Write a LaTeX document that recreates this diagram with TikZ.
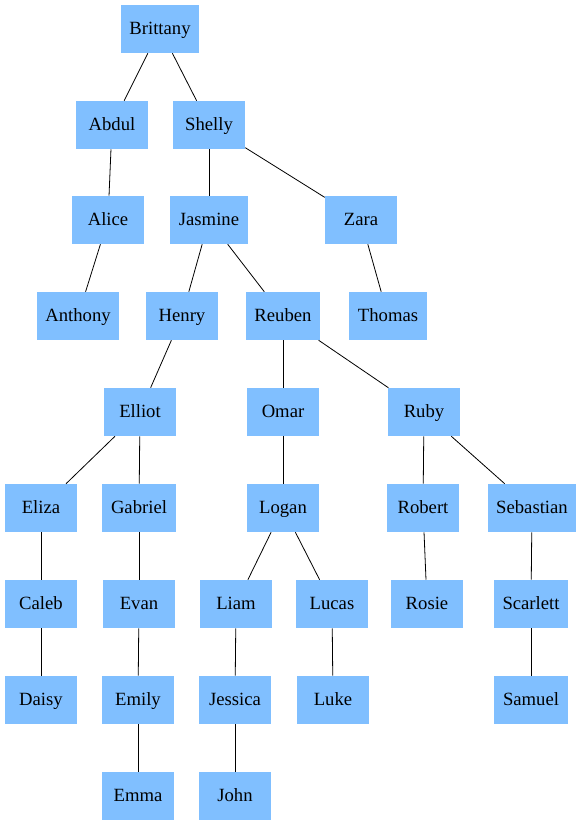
\documentclass[tikz,border=0pt]{standalone}
\usepackage{fontspec}
\setmainfont{Liberation Serif}
\definecolor{boxblue}{RGB}{128,191,255}
\tikzset{
    person/.style={fill=boxblue, minimum width=54pt, minimum height=36pt, inner xsep=6.5pt,
        text height=10pt, text depth=2pt, font=\fontsize{14pt}{16pt}\selectfont},
    link/.style={black, line width=0.6pt}
}
\begin{document}
\begin{tikzpicture}[x=0.75pt, y=-0.75pt]
    \useasboundingbox (0,0) rectangle (584,827);
    % people, row by row
    \node[person] (brittany) at (160,29) {Brittany};
    \node[person] (abdul) at (112,125) {Abdul};
    \node[person] (shelly) at (209,125) {Shelly};
    \node[person] (alice) at (108,220) {Alice};
    \node[person] (jasmine) at (209,220) {Jasmine};
    \node[person] (zara) at (361,220) {Zara};
    \node[person] (anthony) at (78,316) {Anthony};
    \node[person] (henry) at (182,316) {Henry};
    \node[person] (reuben) at (283,316) {Reuben};
    \node[person] (thomas) at (388,316) {Thomas};
    \node[person] (elliot) at (140,412) {Elliot};
    \node[person] (omar) at (283,412) {Omar};
    \node[person] (ruby) at (424,412) {Ruby};
    \node[person] (eliza) at (41,508) {Eliza};
    \node[person] (gabriel) at (139,508) {Gabriel};
    \node[person] (logan) at (283,508) {Logan};
    \node[person] (robert) at (423,508) {Robert};
    \node[person] (sebastian) at (532,508) {Sebastian};
    \node[person] (caleb) at (41,604) {Caleb};
    \node[person] (evan) at (139,604) {Evan};
    \node[person] (liam) at (236,604) {Liam};
    \node[person] (lucas) at (332,604) {Lucas};
    \node[person] (rosie) at (427,604) {Rosie};
    \node[person] (scarlett) at (531,604) {Scarlett};
    \node[person] (daisy) at (41,700) {Daisy};
    \node[person] (emily) at (138,700) {Emily};
    \node[person] (jessica) at (235,700) {Jessica};
    \node[person] (luke) at (333,700) {Luke};
    \node[person] (samuel) at (531,700) {Samuel};
    \node[person] (emma) at (138,796) {Emma};
    \node[person] (john) at (235,796) {John};
    % parent -- child
    \foreach \p/\c in {brittany/abdul, brittany/shelly, abdul/alice, alice/anthony,
        shelly/jasmine, shelly/zara, zara/thomas, jasmine/henry, jasmine/reuben,
        henry/elliot, elliot/eliza, elliot/gabriel, eliza/caleb, caleb/daisy,
        gabriel/evan, evan/emily, emily/emma, reuben/omar, reuben/ruby,
        omar/logan, logan/liam, logan/lucas, liam/jessica, jessica/john,
        lucas/luke, ruby/robert, ruby/sebastian, robert/rosie,
        sebastian/scarlett, scarlett/samuel}
        \draw[link] (\p) -- (\c);
\end{tikzpicture}
\end{document}
